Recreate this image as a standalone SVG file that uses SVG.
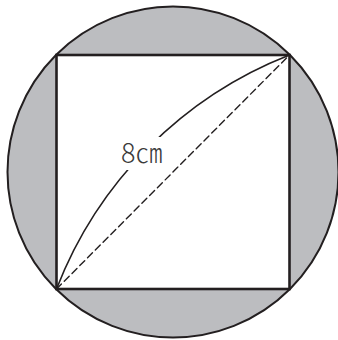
<svg xmlns="http://www.w3.org/2000/svg" width="338" height="340" viewBox="0 0 338 340">
<style>
.ln{fill:none;stroke:#231f20;stroke-linecap:round}
.lbl{font-family:"Noto Sans CJK KR","Noto Sans",sans-serif;font-size:27px;font-weight:300;fill:#3a3a3a}
</style>
<rect width="338" height="340" fill="#fff"/>
<g id="circle">
<circle cx="173" cy="172" r="165.5" fill="#bcbdc0" stroke="#231f20" stroke-width="2"/>
</g>
<g id="square">
<rect x="56.5" y="55" width="233" height="234" fill="#fff" stroke="#231f20" stroke-width="2.6"/>
</g>
<g id="connectors">
<path class="ln" d="M56.5,289 A410,410 0 0,1 289.5,55" stroke-width="1.6"/>
<line class="ln" x1="56.5" y1="289" x2="289.5" y2="55" stroke-width="1.4" stroke-dasharray="7,4" stroke-linecap="butt"/>
</g>
<g id="label">
<rect x="118" y="137" width="52" height="33" fill="#fff"/>
<text class="lbl" x="121" y="162.5">8㎝</text>
</g>
</svg>
